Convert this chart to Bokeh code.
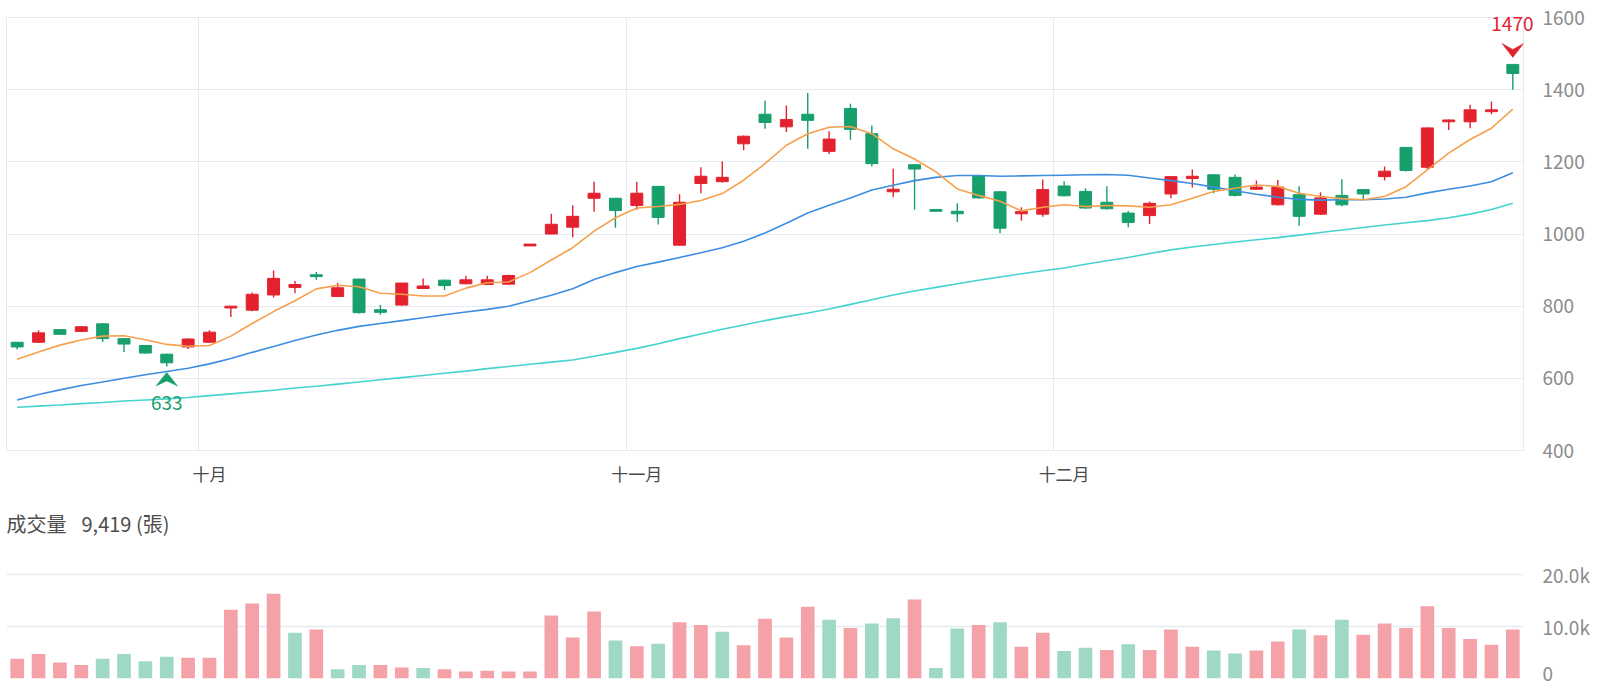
from bokeh.plotting import figure
from bokeh.layouts import column
from bokeh.models import FixedTicker, Label, Range1d, Title
from bokeh.embed import file_html
from bokeh.resources import INLINE

# ---------------- data ----------------
open_ = [700, 700, 735, 730, 751, 710, 691, 667, 687, 700,
         795, 789, 831, 852, 887, 827, 875, 790, 803, 849,
         872, 862, 860, 861, 967, 1000, 1019, 1099, 1099, 1079,
         1132, 969, 1140, 1145, 1250, 1332, 1297, 1332, 1229, 1348,
         1278, 1117, 1192, 1068, 1063, 1162, 1117, 1056, 1055, 1133,
         1118, 1088, 1058, 1051, 1111, 1154, 1164, 1157, 1124, 1081,
         1109, 1055, 1107, 1123, 1159, 1240, 1185, 1311, 1311, 1339,
         1470]
high = [701, 733, 736, 744, 753, 711, 692, 668, 711, 733,
        800, 838, 899, 870, 895, 864, 876, 803, 864, 877,
        873, 884, 884, 887, 972, 1056, 1080, 1145, 1100, 1145,
        1133, 1110, 1185, 1201, 1273, 1369, 1356, 1391, 1285, 1361,
        1301, 1181, 1193, 1068, 1085, 1164, 1118, 1074, 1151, 1146,
        1127, 1132, 1064, 1090, 1161, 1179, 1166, 1165, 1148, 1150,
        1132, 1116, 1152, 1125, 1187, 1241, 1295, 1317, 1358, 1367,
        1470]
low = [680, 698, 721, 729, 701, 673, 669, 633, 681, 698,
       770, 786, 824, 836, 873, 826, 780, 776, 801, 848,
       845, 861, 859, 860, 967, 999, 991, 1062, 1017, 1067,
       1026, 968, 1113, 1143, 1232, 1292, 1283, 1236, 1222, 1261,
       1187, 1102, 1067, 1063, 1033, 1098, 1002, 1037, 1048, 1104,
       1070, 1068, 1019, 1028, 1099, 1129, 1113, 1104, 1123, 1079,
       1023, 1053, 1076, 1095, 1148, 1173, 1180, 1288, 1293, 1332,
       1400]
close = [687, 726, 722, 743, 710, 695, 670, 643, 709, 728,
         800, 833, 877, 860, 882, 851, 782, 783, 864, 856,
         857, 873, 873, 885, 972, 1027, 1049, 1113, 1065, 1113,
         1046, 1088, 1160, 1157, 1271, 1309, 1317, 1315, 1263, 1290,
         1195, 1124, 1180, 1063, 1056, 1100, 1016, 1062, 1123, 1106,
         1072, 1070, 1032, 1085, 1159, 1160, 1124, 1107, 1130, 1130,
         1049, 1100, 1081, 1111, 1174, 1176, 1294, 1316, 1344, 1344,
         1445]

ma5 = [653, 673, 692, 706, 717, 718, 707, 694, 689, 691,
       717, 752, 785, 815, 848, 858, 854, 836, 833, 828,
       828, 850, 865, 867, 893, 928, 962, 1008, 1045, 1072,
       1076, 1082, 1093, 1112, 1149, 1195, 1246, 1278, 1296, 1298,
       1278, 1236, 1208, 1172, 1125, 1107, 1091, 1064, 1074, 1081,
       1076, 1079, 1078, 1074, 1081, 1099, 1118, 1127, 1136, 1132,
       1113, 1104, 1098, 1095, 1104, 1131, 1178, 1224, 1262, 1293,
       1346]
ma20 = [540, 555, 568, 580, 590, 600, 610, 619, 628, 640,
        655, 672, 688, 705, 720, 733, 744, 752, 760, 768,
        776, 784, 791, 800, 815, 830, 848, 874, 893, 910,
        922, 935, 948, 962, 980, 1003, 1030, 1058, 1080, 1100,
        1122, 1135, 1148, 1157, 1162, 1162, 1160, 1161, 1162, 1163,
        1164, 1165, 1163, 1155, 1148, 1140, 1130, 1120, 1110, 1102,
        1096, 1094, 1095, 1095, 1097, 1102, 1114, 1124, 1133, 1145,
        1170]
ma60 = [520, 523, 526, 530, 533, 537, 540, 543, 547, 552,
        557, 562, 567, 573, 578, 584, 590, 596, 602, 608,
        614, 620, 627, 633, 639, 645, 651, 661, 672, 683,
        696, 710, 723, 736, 748, 760, 771, 781, 792, 805,
        818, 831, 842, 852, 862, 872, 881, 890, 898, 906,
        916, 926, 935, 946, 956, 964, 971, 978, 984, 990,
        997, 1004, 1011, 1018, 1025, 1031, 1037, 1045, 1055, 1068,
        1085]

volume = [3800, 4700, 3100, 2600, 3800, 4700, 3300, 4200, 4000, 4000,
          13200, 14400, 16300, 8800, 9400, 1800, 2600, 2600, 2100, 2000,
          1800, 1350, 1500, 1350, 1350, 12100, 7900, 12900, 7300, 6200,
          6700, 10800, 10300, 9000, 6400, 11500, 7900, 13800, 11300, 9700,
          10600, 11600, 15200, 2000, 9600, 10300, 10800, 6100, 8800, 5300,
          5900, 5500, 6600, 5500, 9400, 6100, 5400, 4800, 5400, 7100,
          9400, 8300, 11300, 8400, 10600, 9700, 13900, 9700, 7600, 6500,
          9419]
vol_up = [1, 1, 1, 1, 0, 0, 0, 0, 1, 1,
          1, 1, 1, 0, 1, 0, 0, 1, 1, 0,
          1, 1, 1, 1, 1, 1, 1, 1, 0, 1,
          0, 1, 1, 0, 1, 1, 1, 1, 0, 1,
          0, 0, 1, 0, 0, 1, 0, 1, 1, 0,
          0, 1, 0, 1, 1, 1, 0, 0, 1, 1,
          0, 1, 0, 1, 1, 1, 1, 1, 1, 1,
          1]

month_labels = ["十月", "十一月", "十二月"]
month_start = [9, 29, 49]
price_ticks = [400, 600, 800, 1000, 1200, 1400, 1600]
vol_ticks = [0, 10000, 20000]
vol_tick_labels = ["0", "10.0k", "20.0k"]

# ---------------- styles ----------------
RED = "#e3222e"
GREEN = "#179f6c"
VRED = "#f4a2a7"
VGREEN = "#9fd9c4"
GRID = "#e6e9f1"
TICK = "#8c8c8c"
FONT = "Noto Sans CJK TC"

n = len(close)
idx = list(range(n))
body_top = [max(o, c) for o, c in zip(open_, close)]
body_bot = [min(o, c) for o, c in zip(open_, close)]
ccol = [RED if c >= o else GREEN for o, c in zip(open_, close)]
vcol = [VRED if u else VGREEN for u in vol_up]

FRAME_W = 1517.0
FRAME_H = 433.0
xr = Range1d(-0.5, n - 0.5)
p = figure(width=1600, height=495, x_range=xr, y_range=Range1d(400, 1600),
           output_backend="svg", toolbar_location=None, y_axis_location="right",
           min_border_left=6, min_border_right=77, min_border_top=17, min_border_bottom=45)
p.background_fill_color = "white"
p.border_fill_color = "white"
p.outline_line_color = GRID
p.outline_line_width = 1

p.yaxis.ticker = FixedTicker(ticks=price_ticks)
p.yaxis.axis_line_color = None
p.yaxis.major_tick_line_color = None
p.yaxis.minor_tick_line_color = None
p.yaxis.major_label_standoff = 13
p.yaxis.major_label_text_font = FONT
p.yaxis.major_label_text_font_size = "19px"
p.yaxis.major_label_text_color = TICK

p.xaxis.ticker = FixedTicker(ticks=month_start)
p.xaxis.major_label_overrides = {m: t for m, t in zip(month_start, month_labels)}
p.xaxis.axis_line_color = None
p.xaxis.major_tick_line_color = None
p.xaxis.minor_tick_line_color = None
p.xaxis.major_label_standoff = 4
p.xaxis.major_label_text_font = FONT
p.xaxis.major_label_text_font_size = "17px"
p.xaxis.major_label_text_color = "#4a4a4a"

p.xgrid.ticker = FixedTicker(ticks=[m - 0.5 for m in month_start])
p.xgrid.grid_line_color = GRID
p.ygrid.grid_line_color = GRID
p.xgrid.grid_line_width = 1
p.ygrid.grid_line_width = 1

# candles
p.segment(x0=idx, y0=high, x1=idx, y1=low, line_color=ccol, line_width=1.4)
p.vbar(x=idx, width=0.56, top=body_top, bottom=body_bot, fill_color=ccol,
       line_color=ccol, line_width=1)

# moving averages
p.line(idx, ma60, line_color="#45d3cf", line_width=1.6)
p.line(idx, ma20, line_color="#3d8de0", line_width=1.6)
p.line(idx, ma5, line_color="#f6a04d", line_width=1.6)

# max / min markers
xpx = n / FRAME_W
ypx = 1200.0 / FRAME_H
hi_i = high.index(max(high))
lo_i = low.index(min(low))
hw = 10.8 * xpx

tip = high[hi_i] + 7 * ypx
top = tip + 14 * ypx
notch = top - 6 * ypx
p.patch([hi_i - hw, hi_i, hi_i + hw, hi_i], [top, notch, top, tip],
        fill_color=RED, line_color=RED, line_width=0.5)
# the max label overflows the frame on the right, so it is drawn as an unclipped title
p.add_layout(Title(text=str(max(high)), align="right", vertical_align="bottom",
                   standoff=-26, offset=-10, text_font=FONT, text_font_size="19px",
                   text_font_style="normal", text_color=RED), "above")

tip2 = low[lo_i] - 6 * ypx
bot2 = tip2 - 13.5 * ypx
notch2 = bot2 + 5 * ypx
p.patch([lo_i - hw, lo_i, lo_i + hw, lo_i], [bot2, tip2, bot2, notch2],
        fill_color=GREEN, line_color=GREEN, line_width=0.5)
p.add_layout(Label(x=lo_i, y=bot2 - 17 * ypx, text=str(min(low)),
                   text_align="center", text_baseline="middle",
                   text_font=FONT, text_font_size="19px", text_color=GREEN))

# ---------------- volume ----------------
VOL_TOP = 33270
v = figure(width=1600, height=190, x_range=xr, y_range=Range1d(0, VOL_TOP),
           output_backend="svg", toolbar_location=None, y_axis_location="right",
           x_axis_location=None,
           min_border_left=6, min_border_right=77, min_border_top=10, min_border_bottom=7)
v.outline_line_color = None
v.background_fill_color = "white"
v.border_fill_color = "white"
v.xgrid.visible = False
v.ygrid.grid_line_color = GRID
v.ygrid.grid_line_width = 1.5
v.yaxis.ticker = FixedTicker(ticks=vol_ticks)
v.yaxis.major_label_overrides = {t: s for t, s in zip(vol_ticks, vol_tick_labels)}
v.yaxis.axis_line_color = None
v.yaxis.major_tick_line_color = None
v.yaxis.minor_tick_line_color = None
v.yaxis.major_label_standoff = 13
v.yaxis.major_label_text_font = FONT
v.yaxis.major_label_text_font_size = "19px"
v.yaxis.major_label_text_color = TICK

v.vbar(x=idx, top=volume, width=0.64, fill_color=vcol, line_color=None)

vpx = VOL_TOP / 173.0
v.add_layout(Label(x=-0.5, y=VOL_TOP - 18 * vpx,
                   text="成交量\u2002\u2005" + f"{volume[-1]:,}" + " (張)",
                   text_align="left", text_baseline="middle",
                   text_font=FONT, text_font_size="20px", text_color="#4d4d4d"))

layout = column(p, v, spacing=0)
open("out.html", "w").write(file_html(layout, INLINE))
